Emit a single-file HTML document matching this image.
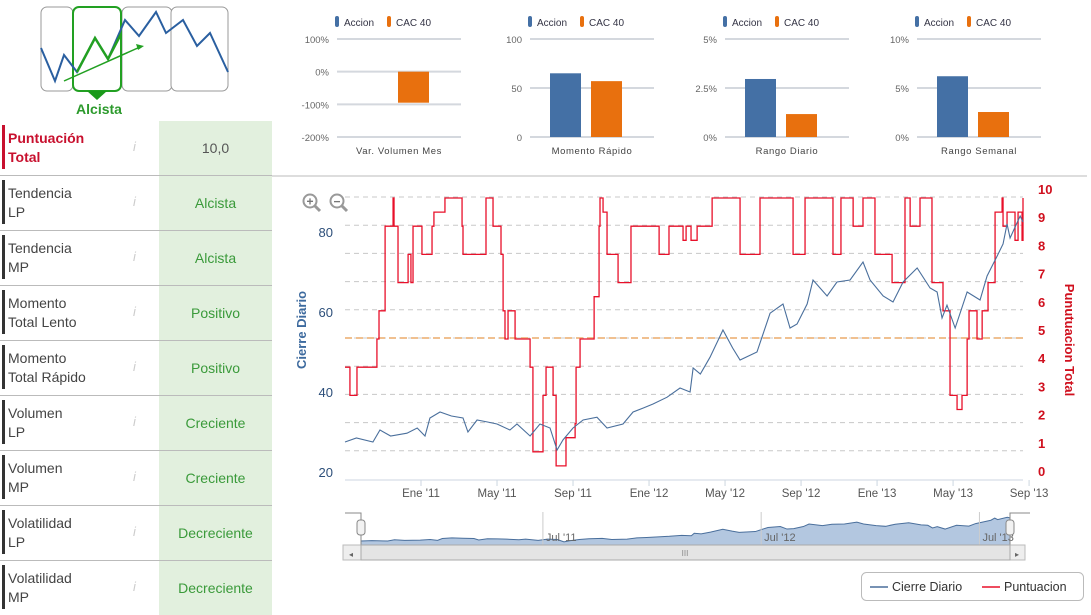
<!DOCTYPE html>
<html><head><meta charset="utf-8">
<style>
body{margin:0;width:1091px;height:607px;overflow:hidden;background:#fff;font-family:"Liberation Sans","DejaVu Sans",sans-serif;position:relative}
.row{position:absolute;left:0;width:272px;height:54px;border-bottom:1px solid #bbb}
.row .bar{position:absolute;left:2px;top:4px;width:3px;height:44px;background:#333}
.row .lbl{position:absolute;left:8px;top:8px;font-size:14px;line-height:19px;color:#444}
.row .info{position:absolute;left:133px;top:18px;font-size:13px;color:#ccc;font-style:italic}
.row .val{position:absolute;left:159px;top:0;width:113px;height:54px;background:#e2f0de;color:#3a9a3a;font-size:14px;text-align:center;line-height:54px}
svg text{font-family:"Liberation Sans","DejaVu Sans",sans-serif}
</style></head><body>
<svg width="240" height="120" style="position:absolute;left:0;top:0">
<rect x="41" y="7" width="32" height="84" rx="6" fill="#fff" stroke="#999"/>
<rect x="122" y="7" width="50" height="84" rx="6" fill="#fff" stroke="#999"/>
<rect x="171" y="7" width="57" height="84" rx="6" fill="#fff" stroke="#999"/>
<rect x="73" y="7" width="48" height="84" rx="6" fill="#fff" stroke="#22a022" stroke-width="2"/>
<polyline points="41,48 55,81 64,55 77,72 95,38 108,59 125,20 139,36 156,12 166,33 183,20 197,46 210,33 228,72" fill="none" stroke="#2a5fa0" stroke-width="2"/>
<polyline points="77,72 95,38 108,59 121,34" fill="none" stroke="#22a022" stroke-width="2.5"/>
<line x1="64" y1="81" x2="140" y2="47" stroke="#22a022" stroke-width="1.5"/>
<polygon points="144,46 136,44 138,50" fill="#22a022"/>
<polygon points="87,91 107,91 97,100" fill="#1a9a1a"/>
<text x="99" y="114" text-anchor="middle" font-size="14" font-weight="bold" fill="#2c9a2c">Alcista</text>
</svg>

<div class="row" style="top:121px"><div class="bar" style="background:#c8102e"></div><div class="lbl" style="color:#c8102e;font-weight:bold">Puntuación<br>Total</div><div class="info">i</div><div class="val" style="color:#555">10,0</div></div>
<div class="row" style="top:176px"><div class="bar"></div><div class="lbl">Tendencia<br>LP</div><div class="info">i</div><div class="val">Alcista</div></div>
<div class="row" style="top:231px"><div class="bar"></div><div class="lbl">Tendencia<br>MP</div><div class="info">i</div><div class="val">Alcista</div></div>
<div class="row" style="top:286px"><div class="bar"></div><div class="lbl">Momento<br>Total Lento</div><div class="info">i</div><div class="val">Positivo</div></div>
<div class="row" style="top:341px"><div class="bar"></div><div class="lbl">Momento<br>Total Rápido</div><div class="info">i</div><div class="val">Positivo</div></div>
<div class="row" style="top:396px"><div class="bar"></div><div class="lbl">Volumen<br>LP</div><div class="info">i</div><div class="val">Creciente</div></div>
<div class="row" style="top:451px"><div class="bar"></div><div class="lbl">Volumen<br>MP</div><div class="info">i</div><div class="val">Creciente</div></div>
<div class="row" style="top:506px"><div class="bar"></div><div class="lbl">Volatilidad<br>LP</div><div class="info">i</div><div class="val">Decreciente</div></div>
<div class="row" style="top:561px;border-bottom:none"><div class="bar"></div><div class="lbl">Volatilidad<br>MP</div><div class="info">i</div><div class="val">Decreciente</div></div>

<svg id="main" width="1091" height="607" style="position:absolute;left:0;top:0">
<line x1="272" y1="176" x2="1087" y2="176" stroke="#bbb"/>
<g id="mini"></g>
<g id="chart"></g>
</svg>
<script>
// ---- mini bar charts data ----
const miniTitles=["Var. Volumen Mes","Momento Rápido","Rango Diario","Rango Semanal"];
const miniAccion=[0,65,2.96,6.2];
const miniCac=[-95,57,1.17,2.55];
const miniTicks=[[100,0,-100,-200],[100,50,0],[5,2.5,0],[10,5,0]];
const miniTickLabels=[["100%","0%","-100%","-200%"],["100","50","0"],["5%","2.5%","0%"],["10%","5%","0%"]];
// ---- main chart data (x = months since Sep 2010) ----
const priceMonths=[0,0.6,1.47,1.84,2.4,3.26,3.8,4.21,4.47,5.0,5.6,6.21,6.47,6.95,7.5,8.0,8.68,9.05,9.74,10.26,10.79,11.16,11.47,12.0,12.53,13.26,13.79,14.63,15.16,15.7,16.21,16.95,17.63,18.16,18.32,18.7,19.21,19.89,20.4,20.79,21.68,22.37,23.05,23.42,23.79,24.32,24.63,25.37,25.89,26.58,27.26,27.63,28.32,28.84,29.37,30.11,30.79,31.16,31.42,31.68,32.11,32.74,33.42,33.79,34.32,34.63,34.84,35.0,35.53,35.68];
const priceValues=[29.5,30.5,29.5,32.5,31,31.7,33,31,35.5,37,36,35.5,32,35,34.5,34,32.5,34,31,34,33,27.5,30,33,35,35.7,33,34,37,38,39,40.7,43,42,48,46.5,50.7,57.5,53,50,52,61.7,64,58,59,64,70,66,69.5,70,74.5,70,66,64.5,69.5,73,68,67,60.5,63.7,58,67,65,71,76,79,84,80.5,86,84.5];
const scoreMonths=[0,0.26,0.63,1.68,1.79,2.11,2.53,2.58,2.79,3.32,3.47,3.58,4.05,4.58,4.68,5.26,6.16,6.21,7.42,7.79,8.21,8.32,8.42,8.58,8.95,9.74,9.89,10.42,10.58,10.95,11.11,11.63,12.11,12.16,12.37,13.11,13.37,13.42,13.58,13.79,14.37,15.05,16.53,17.05,17.79,17.95,18.21,18.53,19.32,20.79,21.84,23.58,24.21,25.68,26.1,26.74,27.26,27.89,28.79,29.47,29.74,30.26,30.89,31.47,31.84,32.21,32.47,32.74,32.84,33.26,33.53,33.84,34.21,34.58,34.63,34.84,35.26,35.42,35.63,35.68];
const scoreValues=[4,3,4,5,6,9,10,9,7,8,7,9,8,9,9.5,10,9,8,10,9,8,6,5,6,5,4,1,3,4,3,0.5,1.5,2,4,5,6.5,9,10,9.5,8,7,9,8,9,8.5,9,8.5,9,10,8,10,8,10,8,10,9,10,8,7,10,9,10,7,6,3,2.5,3,5,6,5,6,7,9.5,10,9,9.5,8.5,9.5,8.5,10];
const xTickMonths=[4,8,12,16,20,24,28,32,36];
const xTickLabels=["Ene '11","May '11","Sep '11","Ene '12","May '12","Sep '12","Ene '13","May '13","Sep '13"];
const leftTicks=[20,40,60,80];
const rightTicks=[0,1,2,3,4,5,6,7,8,9,10];
const navTickMonths=[10,22,34];
const navTickLabels=["Jul '11","Jul '12","Jul '13"];
const thresholdScore=5;

const NS="http://www.w3.org/2000/svg";
function mk(p,tag,attrs,txt){const e=document.createElementNS(NS,tag);for(const k in attrs)e.setAttribute(k,attrs[k]);if(txt!==undefined)e.textContent=txt;p.appendChild(e);return e;}

// mini charts
const mini=document.getElementById('mini');
const centers=[373,566,761,953];
for(let i=0;i<4;i++){
  const c=centers[i],t=miniTicks[i];const mx=t[0],mn=t[t.length-1];
  const ys=v=>39+(mx-v)/(mx-mn)*98;
  const g=mk(mini,'g',{});
  
  
  for(let j=0;j<t.length;j++){
    const y=ys(t[j]);
    mk(g,'line',{x1:c-36,x2:c+88,y1:y,y2:y,stroke:'#d4d8de','stroke-width':2});
    const tl=mk(g,'text',{x:c-44,y:y+4,'text-anchor':'end','font-size':9.5,fill:'#666'},miniTickLabels[i][j]);
    
    
  }
  const z=ys(Math.max(mn,Math.min(mx,0)));
  const a=miniAccion[i],b=miniCac[i];
  const r1=mk(g,'rect',{x:c-16,width:31,y:Math.min(ys(a),z),height:Math.abs(ys(a)-z),fill:'#4470a5'});
  
  
  const r2=mk(g,'rect',{x:c+25,width:31,y:Math.min(ys(b),z),height:Math.abs(ys(b)-z),fill:'#e8700e'});
  
  
  const tt=mk(g,'text',{x:c+26,y:154,'text-anchor':'middle','font-size':9.5,fill:'#444','letter-spacing':'0.6'},miniTitles[i]);
  
  
  const le=mk(g,'g',{});
  
  
  mk(le,'rect',{x:c-38,y:16,width:4,height:11,rx:2,fill:'#4470a5'});
  mk(le,'text',{x:c-29,y:26,'font-size':10,fill:'#334'},'Accion');
  mk(le,'rect',{x:c+14,y:16,width:4,height:11,rx:2,fill:'#e8700e'});
  mk(le,'text',{x:c+23,y:26,'font-size':10,fill:'#334'},'CAC 40');
}

// main chart
const ch=document.getElementById('chart');
const X0=345,X1=1023,MMAX=35.68;
const xs=m=>X0+m*(X1-X0)/MMAX;
const yl=v=>480-(v-20)*4.0;
const yr=s=>480-s*28.2;
for(const s of rightTicks){ if(s===0)continue; const l=mk(ch,'line',{x1:X0,x2:X1,y1:yr(s)-1,y2:yr(s)-1,stroke:'#c8c8c8','stroke-dasharray':'5,4'});
  
  }
mk(ch,'line',{x1:X0,x2:X1,y1:480,y2:480,stroke:'#ccd6e0'});
const th=mk(ch,'line',{x1:X0,x2:X1,y1:yr(thresholdScore)-1,y2:yr(thresholdScore)-1,stroke:'#f0c090','stroke-width':2,'stroke-dasharray':'7,4'});


for(let i=0;i<xTickMonths.length;i++){const x=xs(xTickMonths[i]);
  mk(ch,'line',{x1:x,x2:x,y1:480,y2:486,stroke:'#ccd6e0'});
  const t=mk(ch,'text',{x:x,y:497,'text-anchor':'middle','font-size':11.5,fill:'#555'},xTickLabels[i]);
  
  }
for(const v of leftTicks){const t=mk(ch,'text',{x:333,y:yl(v)-3,'text-anchor':'end','font-size':13,fill:'#2d4f7a'},String(v));
  
  }
for(const s of rightTicks){const t=mk(ch,'text',{x:1038,y:yr(s)-4,'font-size':13,'font-weight':'bold',fill:'#d0101e'},String(s));
  
  }
const lt=mk(ch,'text',{x:0,y:0,transform:'translate(306,330) rotate(-90)','text-anchor':'middle','font-size':13,'font-weight':'bold',fill:'#3d6a9e'},'Cierre Diario');


const rt=mk(ch,'text',{x:0,y:0,transform:'translate(1065,340) rotate(90)','text-anchor':'middle','font-size':13,'font-weight':'bold',fill:'#d0101e'},'Punutuacion Total');


// score step
let d='';for(let i=0;i<scoreMonths.length;i++){const x=xs(scoreMonths[i]),y=yr(scoreValues[i]);d+=(i?`H${x}V${y}`:`M${x},${y}`);}
d+=`H${X1}`;
const sp=mk(ch,'path',{d:d,fill:'none',stroke:'#e8102a','stroke-width':1.3});


const pp=mk(ch,'polyline',{points:priceMonths.map((m,i)=>xs(m)+','+yl(priceValues[i])).join(' '),fill:'none',stroke:'#4a6f9c','stroke-width':1.1});


// zoom buttons
for(const [cx,sign,nm] of [[310,'+','zoom-in-button'],[337,'−','zoom-out-button']]){
  const g=mk(ch,'g',{});
  
  
  mk(g,'circle',{cx:cx,cy:201,r:6.5,fill:'#fff',stroke:'#999','stroke-width':2});
  mk(g,'line',{x1:cx+5,y1:206,x2:cx+10,y2:211,stroke:'#999','stroke-width':3});
  mk(g,'text',{x:cx,y:205.5,'text-anchor':'middle','font-size':12,'font-weight':'bold',fill:'#777'},sign);
}
// navigator
const N0=361,N1=1010,NT=512,NB=545;
const nx=m=>N0+m*(N1-N0)/MMAX;
const ny=v=>NB-(v-20)*0.42;
const nav=mk(ch,'g',{});


mk(nav,'path',{d:'M'+nx(0)+','+NB+' '+priceMonths.map((m,i)=>'L'+nx(m)+','+ny(priceValues[i])).join(' ')+' L'+nx(MMAX)+','+NB+'Z',fill:'#b3c7e0',stroke:'#4a6f9c','stroke-width':1});
for(let i=0;i<navTickMonths.length;i++){const x=nx(navTickMonths[i]);
  mk(nav,'line',{x1:x,x2:x,y1:NT,y2:NB,stroke:'#ccc'});
  const t=mk(nav,'text',{x:x+3,y:541,'font-size':11,fill:'#666'},navTickLabels[i]);
  
  }
mk(nav,'path',{d:`M345,513 H361 V545 M1010,545 V513 H1030`,fill:'none',stroke:'#888'});
for(const hx of [361,1010]){const h=mk(nav,'rect',{x:hx-4,y:520,width:8,height:15,rx:3,fill:'#f2f2f2',stroke:'#888'});
  
  }
const sb=mk(ch,'g',{});


mk(sb,'rect',{x:343,y:545,width:682,height:15,fill:'#eee',stroke:'#bbb'});
mk(sb,'rect',{x:361,y:545,width:649,height:15,fill:'#e4e4e4',stroke:'#aaa'});
mk(sb,'text',{x:685,y:556,'text-anchor':'middle','font-size':8,fill:'#888'},'III');
mk(sb,'text',{x:351,y:557,'text-anchor':'middle','font-size':8,fill:'#666'},'◂');
mk(sb,'text',{x:1017,y:557,'text-anchor':'middle','font-size':8,fill:'#666'},'▸');
// legend
const lg=mk(ch,'g',{});


mk(lg,'rect',{x:861.5,y:572.5,width:222,height:28,rx:5,fill:'#fff',stroke:'#bbb'});
mk(lg,'line',{x1:870,x2:888,y1:587,y2:587,stroke:'#4a6f9c','stroke-width':1.5});
mk(lg,'text',{x:892,y:591,'font-size':12.5,fill:'#333'},'Cierre Diario');
mk(lg,'line',{x1:982,x2:1000,y1:587,y2:587,stroke:'#e8102a','stroke-width':1.5});
mk(lg,'text',{x:1004,y:591,'font-size':12.5,fill:'#333'},'Puntuacion');
</script>
</body></html>
